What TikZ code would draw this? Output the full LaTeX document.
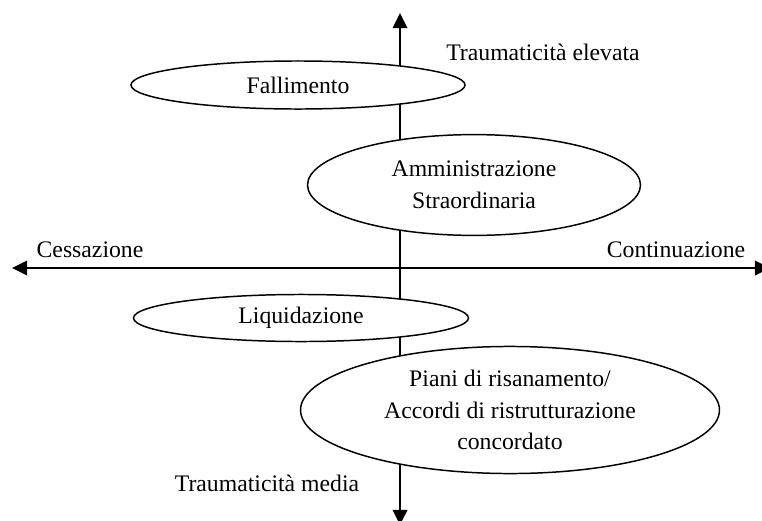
\documentclass[tikz,border=0pt]{standalone}
\usepackage{fontspec}
\setmainfont{Liberation Serif}
\usepackage{tikz}
\usetikzlibrary{
  arrows.meta,%
  shapes.geometric,%
  positioning
}
\tikzset{>={Triangle[length=7.6pt,width=7.4pt]}}
\tikzset{font=\fontsize{12}{16}\selectfont}
\tikzset{procedura/.style={ellipse, draw=black, fill=white, line width=0.75pt,
    inner sep=0pt, align=center}}

\begin{document}
\begin{tikzpicture}[x=0.506pt, y=-0.506pt, line width=0.75pt]
          \useasboundingbox (0,0) rectangle (762,521);
          \clip (0,0) rectangle (762,521);
          % assi
          \coordinate (alto) at (400,13);
          \coordinate (basso) at (400,525);
          \coordinate (sinistra) at (12,268);
          \coordinate (destra) at (770,268);
          \draw[<->] (basso) -- (alto);
          \draw[<->] (sinistra) -- (destra);
          \node (elevata) at (543,52) {Traumaticità elevata};
          \node (media) at (267,483) {Traumaticità media};
          \node (cessazione) at (90,250) {Cessazione};
          \node (continuazione) at (676,250) {Continuazione};
          % procedure
          \node[procedura, minimum width=169pt, minimum height=24.3pt] (fallimento) at (298,85) {Fallimento};
          \node[procedura, minimum width=168.5pt, minimum height=51pt] (amministrazione) at (474,185) {Amministrazione\\Straordinaria};
          \node[procedura, minimum width=169.5pt, minimum height=23.8pt] (liquidazione) at (301,318) {Liquidazione};
          \node[procedura, minimum width=212pt, minimum height=64.3pt] (piani) at (510,410) {Piani di risanamento/\\Accordi di ristrutturazione\\concordato};
        \end{tikzpicture}
\end{document}
